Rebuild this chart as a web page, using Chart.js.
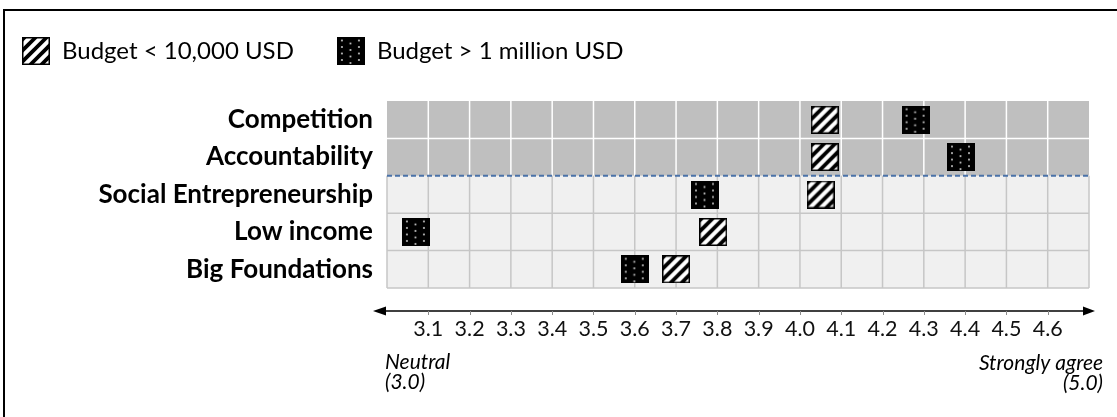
<!DOCTYPE html>
<html>
<head>
<meta charset="utf-8">
<script src="https://cdn.jsdelivr.net/npm/chart.js@4.4.1/dist/chart.umd.min.js"></script>
<style>
  html, body { margin: 0; padding: 0; background: #fff; overflow: hidden; }
  #wrap { position: relative; width: 1117px; height: 417px; }
  #frame { position: absolute; left: 3px; top: 9px; right: -10px; bottom: -10px;
           border-top: 2px solid #000; border-left: 2px solid #000; }
  canvas { position: absolute; left: 0; top: 0; }
</style>
</head>
<body>
<div id="wrap"><div id="frame"></div><canvas id="c" width="1117" height="417"></canvas></div>
<script>
// ---- data ----
const categories = ['Competition', 'Accountability', 'Social Entrepreneurship', 'Low income', 'Big Foundations'];
const smallBudgetScores = [4.06, 4.06, 4.05, 3.79, 3.70];
const largeBudgetScores = [4.28, 4.39, 3.77, 3.07, 3.60];
const seriesLabels = ['Budget < 10,000 USD', 'Budget > 1 million USD'];
const tickLabels = ['3.1', '3.2', '3.3', '3.4', '3.5', '3.6', '3.7', '3.8', '3.9', '4.0', '4.1', '4.2', '4.3', '4.4', '4.5', '4.6'];
const axisMin = 3.0;
const axisMax = 4.7;
const axisStep = 0.1;
const lowEndLabel = ['Neutral', '(3.0)'];
const highEndLabel = ['Strongly agree', '(5.0)'];
const highlightedRows = 2;

// ---- layout ----
const W = 1117, H = 417;
const PLOT = { left: 387, top: 101, right: 1089, bottom: 288 };
const FONT = 'Lato, "Open Sans", sans-serif';
const LEGEND_FONT = 24, LEGEND_GAP = 43, LEGEND_CENTER = 51, LEGEND_LEFT = 22;
const PAD_LEFT = LEGEND_LEFT - LEGEND_GAP;
const PAD_TOP = LEGEND_CENTER - LEGEND_GAP - LEGEND_FONT / 2;
const LEGEND_EXTRA = PLOT.top - (PAD_TOP + LEGEND_FONT + LEGEND_GAP + 10);
const MARK = 28;

// ---- marker swatches ----
function hatchedSwatch(size) {
  const c = document.createElement('canvas');
  c.width = c.height = size;
  const g = c.getContext('2d');
  g.fillStyle = '#fff';
  g.fillRect(0, 0, size, size);
  g.save();
  g.beginPath(); g.rect(0, 0, size, size); g.clip();
  g.strokeStyle = '#000';
  g.lineWidth = 3.8;
  for (let k = -size + 3; k <= 2 * size; k += 11) {
    g.beginPath(); g.moveTo(k, size); g.lineTo(k + size, 0); g.stroke();
  }
  g.restore();
  g.strokeStyle = '#000';
  g.lineWidth = 1.5;
  g.strokeRect(0.75, 0.75, size - 1.5, size - 1.5);
  return c;
}

function dottedSwatch(size) {
  const c = document.createElement('canvas');
  c.width = c.height = size;
  const g = c.getContext('2d');
  g.fillStyle = '#000';
  g.fillRect(0, 0, size, size);
  g.fillStyle = '#c0c0c0';
  const cols = [5, 13.5, 22];
  cols.forEach((cx, ci) => {
    const start = ci === 1 ? 6.5 : 3.5;
    for (let cy = start; cy < size - 1; cy += 6.5) {
      g.fillRect(cx - 0.9, cy - 0.9, 1.8, 1.8);
    }
  });
  return c;
}

const hatchMark = hatchedSwatch(MARK);
const dotMark = dottedSwatch(MARK);

// ---- drawing helpers ----
const legendSpacing = {
  id: 'legendSpacing',
  afterInit(chart) {
    const legend = chart.legend;
    if (!legend) return;
    const baseFit = legend.fit;
    legend.fit = function () {
      baseFit.call(this);
      this.height += LEGEND_EXTRA;
    };
  }
};

const panel = {
  id: 'panel',
  beforeDatasetsDraw(chart) {
    const { ctx, chartArea: a, scales: { x, y } } = chart;
    const n = categories.length;
    const edges = [];
    for (let k = 0; k <= n; k++) edges.push(y.getPixelForValue(k - 0.5));
    const cols = x.ticks.map(t => x.getPixelForValue(t.value));
    const split = edges[highlightedRows];
    const w = a.right - a.left;
    ctx.save();
    ctx.fillStyle = '#bfbfbf';
    ctx.fillRect(a.left, edges[0], w, split - edges[0]);
    ctx.fillStyle = '#f0f0f0';
    ctx.fillRect(a.left, split, w, edges[n] - split);

    ctx.lineWidth = 1.5;
    ctx.strokeStyle = '#ffffff';
    ctx.beginPath();
    cols.slice(1, -1).forEach(px => { ctx.moveTo(px, edges[0]); ctx.lineTo(px, split); });
    for (let k = 1; k < highlightedRows; k++) { ctx.moveTo(a.left, edges[k]); ctx.lineTo(a.right, edges[k]); }
    ctx.stroke();

    ctx.strokeStyle = '#c6c6c6';
    ctx.beginPath();
    cols.forEach(px => { ctx.moveTo(px, split); ctx.lineTo(px, edges[n]); });
    for (let k = highlightedRows + 1; k <= n; k++) { ctx.moveTo(a.left, edges[k]); ctx.lineTo(a.right, edges[k]); }
    ctx.stroke();

    ctx.setLineDash([5, 3]);
    ctx.strokeStyle = '#4a72a8';
    ctx.lineWidth = 2;
    ctx.beginPath();
    ctx.moveTo(a.left, split); ctx.lineTo(a.right, split);
    ctx.stroke();
    ctx.restore();
  },
  afterDraw(chart) {
    const { ctx, chartArea: a, scales: { x } } = chart;
    const yLine = a.bottom + 23;
    const leftTip = a.left - 14, rightTip = a.right + 6;
    ctx.save();
    ctx.strokeStyle = '#000';
    ctx.lineWidth = 1.5;
    ctx.beginPath();
    ctx.moveTo(leftTip + 4, yLine); ctx.lineTo(rightTip - 4, yLine);
    ctx.stroke();
    ctx.fillStyle = '#000';
    ctx.beginPath();
    ctx.moveTo(leftTip, yLine); ctx.lineTo(leftTip + 13, yLine - 4.5); ctx.lineTo(leftTip + 13, yLine + 4.5);
    ctx.closePath(); ctx.fill();
    ctx.beginPath();
    ctx.moveTo(rightTip, yLine); ctx.lineTo(rightTip - 12, yLine - 4.5); ctx.lineTo(rightTip - 12, yLine + 4.5);
    ctx.closePath(); ctx.fill();

    ctx.strokeStyle = '#8a8a8a';
    ctx.lineWidth = 1;
    ctx.beginPath();
    x.ticks.slice(1, -1).forEach(t => {
      const px = Math.round(x.getPixelForValue(t.value)) + 0.5;
      ctx.moveTo(px, yLine); ctx.lineTo(px, yLine + 4);
    });
    ctx.stroke();

    ctx.fillStyle = '#000';
    ctx.font = 'italic 21px ' + FONT;
    ctx.textBaseline = 'alphabetic';
    ctx.textAlign = 'left';
    lowEndLabel.forEach((s, i) => ctx.fillText(s, a.left - 2, a.bottom + 81 + i * 20));
    ctx.textAlign = 'right';
    highEndLabel.forEach((s, i) => ctx.fillText(s, a.right + 14, a.bottom + 82 + i * 20));
    ctx.restore();
  }
};

function build() {
  new Chart(document.getElementById('c'), {
    type: 'scatter',
    data: {
      datasets: [
        {
          label: seriesLabels[0],
          data: categories.map((c, i) => ({ x: smallBudgetScores[i], y: c })),
          pointStyle: hatchMark,
          pointRadius: MARK / 2,
          pointHoverRadius: MARK / 2
        },
        {
          label: seriesLabels[1],
          data: categories.map((c, i) => ({ x: largeBudgetScores[i], y: c })),
          pointStyle: dotMark,
          pointRadius: MARK / 2,
          pointHoverRadius: MARK / 2
        }
      ]
    },
    options: {
      responsive: false,
      animation: false,
      devicePixelRatio: 1,
      events: [],
      clip: false,
      layout: { padding: { left: PAD_LEFT, top: PAD_TOP, right: W - PLOT.right, bottom: 0 } },
      plugins: {
        tooltip: { enabled: false },
        legend: {
          display: true,
          position: 'top',
          align: 'start',
          labels: {
            usePointStyle: true,
            pointStyleWidth: MARK,
            padding: LEGEND_GAP,
            color: '#000',
            font: { family: FONT, size: LEGEND_FONT }
          }
        }
      },
      scales: {
        x: {
          type: 'linear',
          position: 'bottom',
          min: axisMin,
          max: axisMax,
          offset: false,
          grid: { display: false, drawTicks: false },
          border: { display: false },
          ticks: {
            stepSize: axisStep,
            autoSkip: false,
            maxRotation: 0,
            padding: 28,
            color: '#111',
            font: { family: FONT, size: 21.5 },
            callback: (v) => {
              const s = Number(v).toFixed(1);
              return tickLabels.includes(s) ? s : '';
            }
          },
          afterFit: (s) => { s.height = H - PLOT.bottom; s.paddingLeft = 0; s.paddingRight = 0; }
        },
        y: {
          type: 'category',
          labels: categories,
          offset: true,
          grid: { display: false, drawTicks: false },
          border: { display: false },
          ticks: {
            padding: 14,
            color: '#000',
            font: { family: FONT, size: 26, weight: 'bold' }
          },
          afterFit: (s) => { s.width = PLOT.left - PAD_LEFT; s.paddingTop = 0; s.paddingBottom = 0; }
        }
      }
    },
    plugins: [legendSpacing, panel]
  });
}

const fontLoads = ['24px Lato', 'bold 26px Lato', 'italic 21px Lato', '21px Lato']
  .map(f => document.fonts.load(f).catch(() => null));
Promise.all(fontLoads).then(build, build);
</script>
</body>
</html>
